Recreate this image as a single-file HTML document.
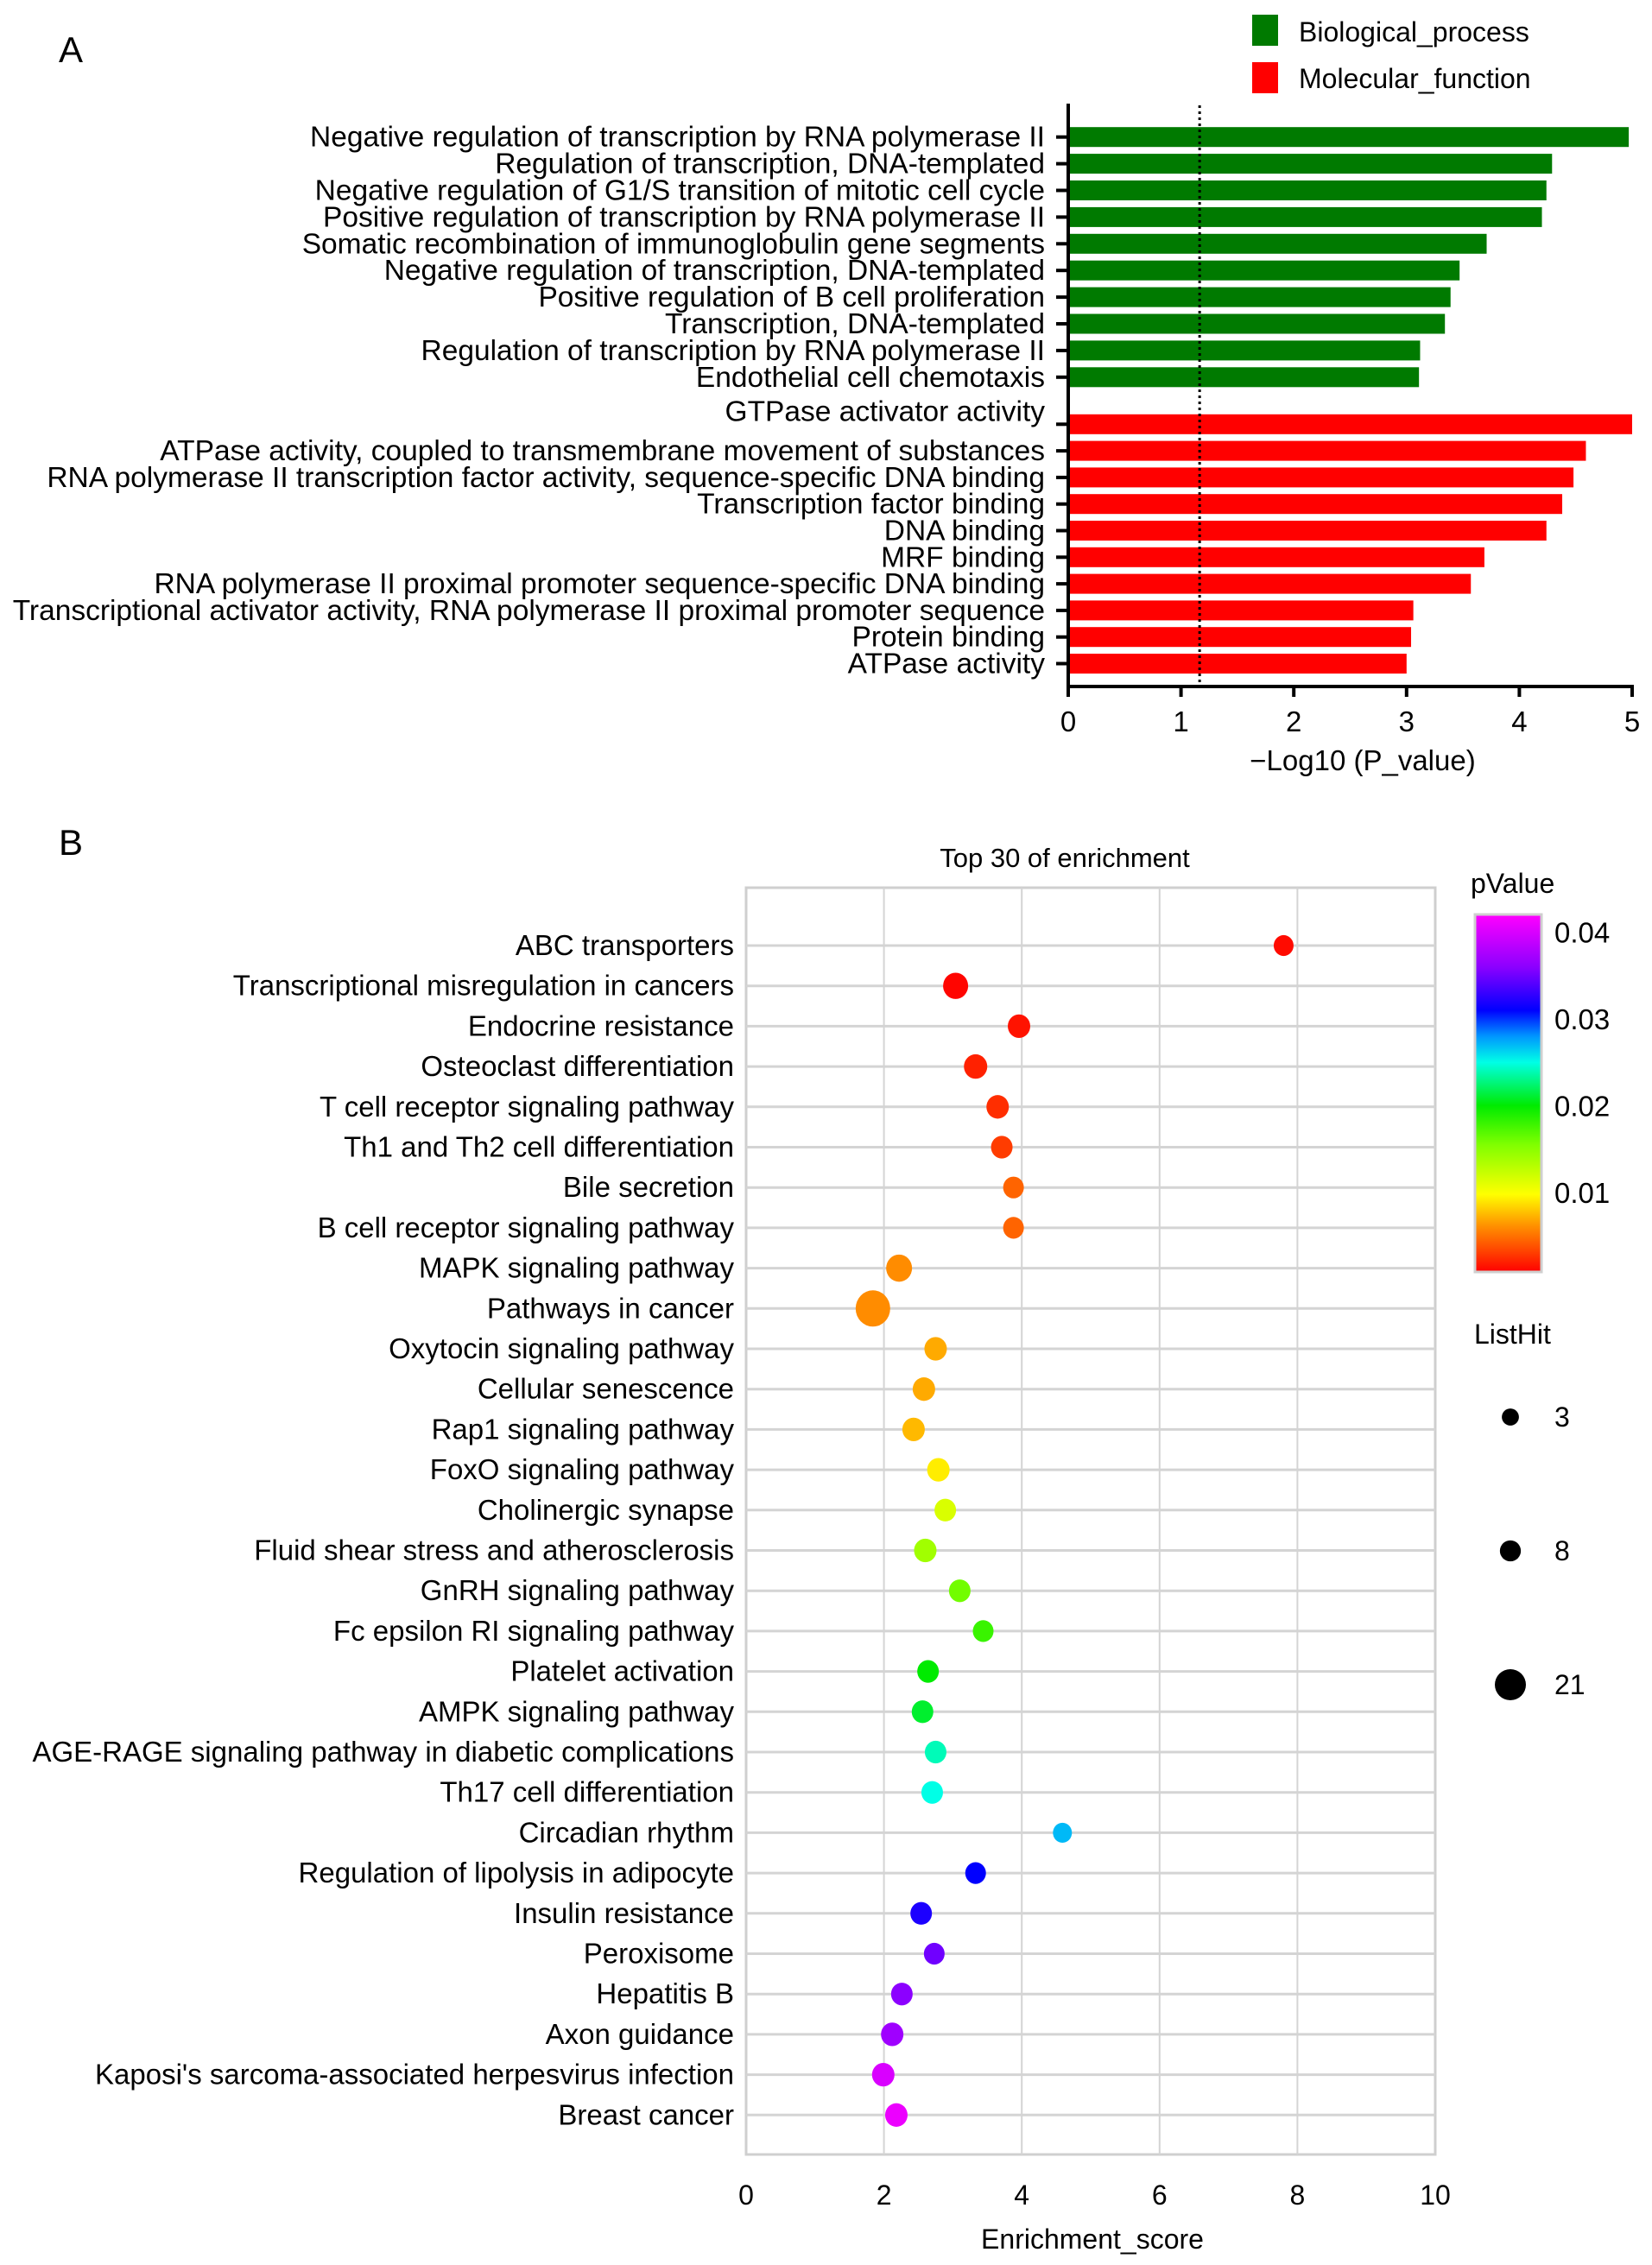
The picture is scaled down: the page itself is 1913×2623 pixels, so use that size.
<!DOCTYPE html>
<html><head><meta charset="utf-8"><style>
body{margin:0;background:#fff}
svg{display:block;font-family:"Liberation Sans",Arial,sans-serif}
</style></head><body>
<svg id="fig" width="1913" height="2623" viewBox="0 0 1913 2623" xmlns="http://www.w3.org/2000/svg">
<rect width="1913" height="2623" fill="#fff"/>
<text x="68" y="72" font-size="42">A</text>
<text x="68" y="990" font-size="42">B</text>
<g>
<rect x="1450" y="17" width="30" height="36" fill="#007a00"/>
<text x="1504" y="48" font-size="32">Biological_process</text>
<rect x="1450" y="72" width="30" height="36" fill="#ff0000"/>
<text x="1504" y="102" font-size="32">Molecular_function</text>
</g>
<g id="chartA"></g>
<g id="chartB"></g>
</svg>
<script>
const NS="http://www.w3.org/2000/svg";
const bpLabels=["Negative regulation of transcription by RNA polymerase II","Regulation of transcription, DNA-templated","Negative regulation of G1/S transition of mitotic cell cycle","Positive regulation of transcription by RNA polymerase II","Somatic recombination of immunoglobulin gene segments","Negative regulation of transcription, DNA-templated","Positive regulation of B cell proliferation","Transcription, DNA-templated","Regulation of transcription by RNA polymerase II","Endothelial cell chemotaxis"];
const bpValues=[4.97,4.29,4.24,4.20,3.71,3.47,3.39,3.34,3.12,3.11];
const mfLabels=["GTPase activator activity","ATPase activity, coupled to transmembrane movement of substances","RNA polymerase II transcription factor activity, sequence-specific DNA binding","Transcription factor binding","DNA binding","MRF binding","RNA polymerase II proximal promoter sequence-specific DNA binding","Transcriptional activator activity, RNA polymerase II proximal promoter sequence","Protein binding","ATPase activity"];
const mfValues=[5.0,4.59,4.48,4.38,4.24,3.69,3.57,3.06,3.04,3.00];
const aTicks=[0,1,2,3,4,5];
const thresholdA=1.165;

const termsB=["ABC transporters","Transcriptional misregulation in cancers","Endocrine resistance","Osteoclast differentiation","T cell receptor signaling pathway","Th1 and Th2 cell differentiation","Bile secretion","B cell receptor signaling pathway","MAPK signaling pathway","Pathways in cancer","Oxytocin signaling pathway","Cellular senescence","Rap1 signaling pathway","FoxO signaling pathway","Cholinergic synapse","Fluid shear stress and atherosclerosis","GnRH signaling pathway","Fc epsilon RI signaling pathway","Platelet activation","AMPK signaling pathway","AGE-RAGE signaling pathway in diabetic complications","Th17 cell differentiation","Circadian rhythm","Regulation of lipolysis in adipocyte","Insulin resistance","Peroxisome","Hepatitis B","Axon guidance","Kaposi's sarcoma-associated herpesvirus infection","Breast cancer"];
const scoresB=[7.8,3.04,3.96,3.33,3.65,3.71,3.88,3.88,2.22,1.84,2.75,2.58,2.43,2.79,2.89,2.6,3.1,3.44,2.64,2.56,2.75,2.7,4.59,3.33,2.54,2.73,2.26,2.12,1.99,2.18];
const pvaluesB=[0.0012,0.001,0.0015,0.002,0.0025,0.003,0.0045,0.0045,0.006,0.006,0.007,0.007,0.0075,0.0092,0.0115,0.014,0.016,0.018,0.02,0.021,0.024,0.025,0.027,0.031,0.032,0.035,0.036,0.037,0.04,0.041];
const hitsB=[4,10,7,8,7,6,5,5,11,21,7,7,7,7,6,7,6,5,6,6,6,6,3,5,6,5,6,7,7,7];
const bTicks=[0,2,4,6,8,10];
const legendHits=[3,8,21];
const cbarTicks=[0.01,0.02,0.03,0.04];

function el(tag,attrs,parent,txt){const e=document.createElementNS(NS,tag);for(const k in attrs)e.setAttribute(k,attrs[k]);if(txt!==undefined)e.textContent=txt;parent.appendChild(e);return e;}

// ---- Chart A ----
const A=document.getElementById('chartA');
const ax0=1237,ax1=1890,aTop=120,aBase=795;
const xA=v=>ax0+(v-0)/(5-0)*(ax1-ax0);
const yBP=i=>158.7+i*30.9;
const yMF=i=>491.3+i*30.8;
const barH=23;
function drawBars(labels,values,yf,color,kind){
  labels.forEach((lab,i)=>{
    const y=yf(i);
    const r=el('rect',{x:xA(0),y:y-barH/2,width:xA(values[i])-xA(0),height:barH,fill:color},A);
    
    
    const tk=el('line',{x1:ax0-14,x2:ax0,y1:y,y2:y,stroke:'#000','stroke-width':4},A);
    
    
    const ty=(kind==='mf'&&i===0)?y-4:y+11;
    const t=el('text',{x:1210,y:ty,'font-size':33.5,'text-anchor':'end'},A,lab);
    
    
  });
}
drawBars(bpLabels,bpValues,yBP,'#007a00','bp');
drawBars(mfLabels,mfValues,yMF,'#ff0000','mf');
const yAxA=el('line',{x1:ax0,x2:ax0,y1:aTop,y2:aBase+2,stroke:'#000','stroke-width':4},A);


const xAxA=el('line',{x1:ax0-2,x2:ax1+2,y1:aBase,y2:aBase,stroke:'#000','stroke-width':4},A);


aTicks.forEach(v=>{
  const l=el('line',{x1:xA(v),x2:xA(v),y1:aBase,y2:aBase+12,stroke:'#000','stroke-width':4},A);
  
  
  const t=el('text',{x:xA(v),y:aBase+52,'font-size':33,'text-anchor':'middle'},A,String(v));
  
  
});
const th=el('line',{x1:xA(thresholdA),x2:xA(thresholdA),y1:122,y2:790,stroke:'#000','stroke-width':3,'stroke-dasharray':'3,4'},A);


const axt=el('text',{x:1578,y:892,'font-size':33,'text-anchor':'middle'},A,'\u2212Log10 (P_value)');



// ---- Chart B ----
const B=document.getElementById('chartB');
const bx0=864,bx1=1662,bTop=1028,bBot=2495;
const xB=v=>bx0+(v-0)/(10-0)*(bx1-bx0);
const yB=i=>1095+i*46.7;
const rB=n=>9.5+0.5*n;
const cStops=[[0.0008,[255,0,0]],[0.003,[255,60,0]],[0.006,[255,140,0]],[0.0098,[255,255,0]],[0.0155,[128,255,0]],[0.02,[0,235,0]],[0.025,[0,255,230]],[0.028,[0,150,255]],[0.031,[0,0,255]],[0.036,[140,0,255]],[0.042,[255,0,255]]];
function colorB(p){
  if(p<=cStops[0][0])return 'rgb('+cStops[0][1]+')';
  for(let k=1;k<cStops.length;k++){if(p<=cStops[k][0]){const a=cStops[k-1],b=cStops[k];const t=(p-a[0])/(b[0]-a[0]);return 'rgb('+a[1].map((c,j)=>Math.round(c+(b[1][j]-c)*t)).join(',')+')';}}
  return 'rgb('+cStops[cStops.length-1][1]+')';
}
const frame=el('rect',{x:bx0,y:bTop,width:bx1-bx0,height:bBot-bTop,fill:'none',stroke:'#cfcfcf','stroke-width':3},B);


bTicks.forEach(v=>{
  if(v>0&&v<10){const g=el('line',{x1:xB(v),x2:xB(v),y1:bTop,y2:bBot,stroke:'#d4d4d4','stroke-width':2},B);
  
  }
  const t=el('text',{x:xB(v),y:2553,'font-size':32,'text-anchor':'middle'},B,String(v));
  
  
});
termsB.forEach((term,i)=>{
  const y=yB(i);
  const g=el('line',{x1:bx0,x2:bx1,y1:y,y2:y,stroke:'#d4d4d4','stroke-width':3},B);
  
  
  const t=el('text',{x:850,y:y+11,'font-size':33,'text-anchor':'end'},B,term);
  
  
});
termsB.forEach((term,i)=>{
  const c=el('ellipse',{cx:xB(scoresB[i]),cy:yB(i),rx:rB(hitsB[i]),ry:rB(hitsB[i])*1.05,fill:colorB(pvaluesB[i])},B);
  
  
});
const tt=el('text',{x:1233,y:1004,'font-size':31,'text-anchor':'middle'},B,'Top 30 of enrichment');


const xt=el('text',{x:1265,y:2604,'font-size':32,'text-anchor':'middle'},B,'Enrichment_score');


const cbTop=1059,cbBot=1473,cbX=1708,cbW=77;
const yC=p=>1381-(p-0.01)/0.01*100.5;
const defs=el('defs',{},B);
const grad=el('linearGradient',{id:'cg',x1:0,y1:1,x2:0,y2:0},defs);
cStops.forEach(s=>{el('stop',{offset:((cbBot-yC(s[0]))/(cbBot-cbTop)*100).toFixed(2)+'%','stop-color':'rgb('+s[1]+')'},grad);});
const cb=el('rect',{x:cbX,y:cbTop,width:cbW,height:cbBot-cbTop,fill:'url(#cg)',stroke:'#cfcfcf','stroke-width':3},B);


cbarTicks.forEach(p=>{
  const t=el('text',{x:1800,y:yC(p)+12,'font-size':33},B,p.toFixed(2));
  
  
});
const pt=el('text',{x:1703,y:1034,'font-size':32},B,'pValue');


const lt=el('text',{x:1707,y:1556,'font-size':32},B,'ListHit');


legendHits.forEach((n,k)=>{
  const y=1641+k*155;
  const c=el('circle',{cx:1749,cy:y,r:rB(n)*0.9},B);
  
  
  const t=el('text',{x:1800,y:y+11,'font-size':32},B,String(n));
  
  
});
</script>
</body></html>
